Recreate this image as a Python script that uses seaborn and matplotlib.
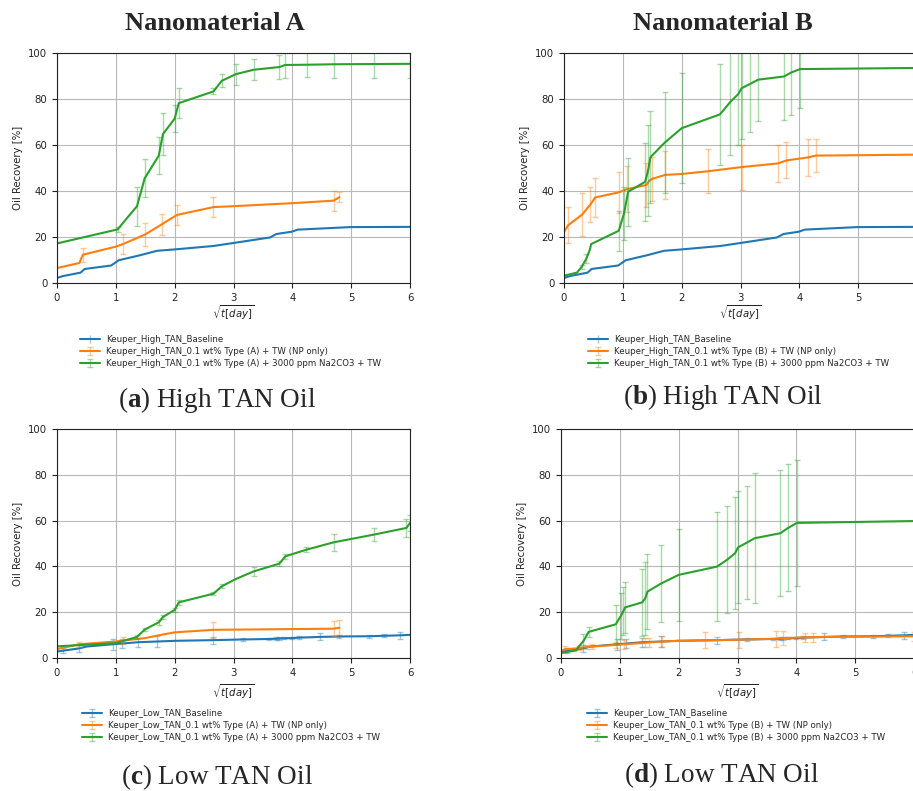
import numpy as np
import matplotlib
matplotlib.use("Agg")
import matplotlib.pyplot as plt
import seaborn as sns
from matplotlib.legend_handler import HandlerTuple

# ---------------- data ----------------
x_ticks = [0, 1, 2, 3, 4, 5, 6]
y_ticks = [0, 20, 40, 60, 80, 100]

# High TAN baseline (shared by panels a and b)
hi_base_x = [0, 0.1, 0.4, 0.47, 0.92, 1.05, 1.4, 1.7, 2.0, 2.66, 3.0, 3.62, 3.73, 3.99, 4.09, 4.98, 6.0]
hi_base_y = [2.2, 3.0, 4.5, 6.1, 7.6, 9.9, 12.0, 14.0, 14.6, 16.1, 17.4, 19.8, 21.3, 22.3, 23.2, 24.3, 24.4]
hi_base_e = [0] * 17

a_np_x = [0, 0.38, 0.44, 1.0, 1.12, 1.5, 1.78, 2.04, 2.66, 3.0, 4.0, 4.70, 4.80]
a_np_y = [6.5, 8.7, 12.3, 15.8, 16.9, 21.1, 25.5, 29.6, 33.0, 33.4, 34.7, 35.8, 37.3]
a_np_e = [0, 0, 3.0, 0, 4.5, 5.0, 4.7, 4.3, 4.2, 0, 0, 4.3, 2.2]

a_na_x = [0, 1.03, 1.36, 1.49, 1.73, 1.80, 2.0, 2.07, 2.66, 2.80, 3.04, 3.34, 3.78, 3.88, 4.25, 4.70, 5.39, 6.0]
a_na_y = [17.2, 23.3, 33.4, 45.5, 55.4, 64.7, 71.5, 78.2, 83.3, 87.9, 90.8, 92.7, 93.9, 94.8, 94.9, 95.1, 95.2, 95.3]
a_na_e = [0, 1.0, 8.5, 8.2, 8.2, 9.0, 5.8, 6.5, 1.3, 2.8, 4.6, 4.5, 5.3, 5.5, 5.5, 6.0, 6.0, 6.0]

b_np_x = [0, 0.07, 0.31, 0.45, 0.53, 0.93, 1.07, 1.40, 1.45, 1.50, 1.72, 2.0, 2.45, 3.02, 3.64, 3.78, 4.15, 4.28, 6.0]
b_np_y = [22.2, 25.1, 29.8, 34.2, 37.2, 39.4, 40.8, 42.6, 44.5, 45.3, 47.0, 47.4, 48.6, 50.4, 52.0, 53.3, 54.6, 55.4, 55.8]
b_np_e = [0, 7.8, 9.5, 7.7, 8.5, 9.0, 10.0, 9.7, 0, 9.5, 10.5, 0, 9.5, 9.8, 8.0, 7.8, 7.9, 7.0, 7.0]

b_na_x = [0, 0.22, 0.30, 0.38, 0.44, 0.46, 0.93, 1.02, 1.09, 1.38, 1.43, 1.47, 1.71, 2.0, 2.65, 2.83,
          2.96, 3.02, 3.16, 3.30, 3.74, 3.86, 4.01, 6.0]
b_na_y = [3.2, 4.5, 7.0, 10.6, 14.5, 16.9, 22.7, 30.2, 39.7, 44.0, 49.0, 54.7, 61.0, 67.3, 73.3, 78.8,
          82.1, 84.7, 86.5, 88.4, 89.8, 91.5, 93.0, 93.5]
b_na_e = [0, 0, 1.0, 2.0, 0, 0, 8.7, 11.5, 14.8, 17.0, 19.8, 20.0, 22.0, 24.0, 22.0, 23.0,
          22.0, 22.0, 21.0, 18.0, 19.0, 18.5, 17.0, 0]

# Low TAN baseline (shared by panels c and d)
lo_base_x = [0, 0.1, 0.38, 0.5, 0.95, 1.1, 1.38, 1.7, 2.0, 2.66, 3.16, 3.6, 3.73, 3.78, 3.86, 4.0, 4.12,
             4.47, 4.8, 5.3, 5.56, 5.83, 6.0]
lo_base_y = [2.8, 3.2, 4.2, 5.0, 6.0, 6.3, 6.9, 7.2, 7.5, 7.8, 8.1, 8.3, 8.4, 8.5, 8.6, 8.7, 8.9,
             9.2, 9.4, 9.5, 9.7, 9.9, 10.1]
lo_base_e = [0, 1.0, 1.5, 0, 2.5, 2.0, 2.0, 2.5, 0, 1.5, 0.5, 0.5, 0.6, 0.5, 0.5, 0.6, 0.5,
             1.5, 0.7, 0.7, 0.7, 1.5, 0]

c_np_x = [0, 0.38, 1.0, 1.12, 1.5, 1.75, 2.0, 2.66, 4.70, 4.80]
c_np_y = [3.9, 6.0, 7.2, 7.6, 8.7, 10.0, 11.2, 12.3, 12.8, 13.2]
c_np_e = [0, 1.0, 0, 1.5, 0, 0, 0, 3.4, 3.3, 3.3]

c_na_x = [0, 1.0, 1.36, 1.49, 1.73, 1.80, 2.0, 2.07, 2.66, 2.80, 3.04, 3.34, 3.78, 3.88, 4.24, 4.70, 5.39, 5.94, 6.0]
c_na_y = [5.1, 6.5, 9.2, 12.4, 15.6, 17.9, 21.0, 24.3, 28.1, 31.3, 34.5, 37.8, 41.2, 44.4, 47.3, 50.5, 53.9, 56.8, 59.0]
c_na_e = [0, 0, 1.0, 0.7, 1.0, 1.0, 1.0, 1.0, 0.7, 0.8, 0, 1.8, 1.0, 1.0, 1.0, 3.8, 3.0, 4.0, 3.5]

d_np_x = [0, 0.07, 0.31, 0.45, 0.53, 0.93, 1.07, 1.42, 1.50, 1.72, 2.0, 2.45, 3.02, 3.65, 3.78, 4.15, 4.28, 6.0]
d_np_y = [3.2, 3.8, 4.3, 4.8, 5.0, 5.7, 6.0, 6.6, 6.8, 7.2, 7.5, 7.7, 8.0, 8.4, 8.7, 9.0, 9.1, 9.5]
d_np_e = [0, 1.5, 1.0, 1.0, 1.0, 1.5, 2.0, 2.0, 2.0, 2.5, 0, 3.5, 3.5, 3.5, 3.0, 2.0, 2.0, 2.0]

d_na_x = [0, 0.26, 0.30, 0.38, 0.47, 0.93, 1.02, 1.06, 1.09, 1.38, 1.43, 1.47, 1.70, 2.0, 2.65, 2.83,
          2.96, 3.01, 3.16, 3.29, 3.73, 3.86, 4.01, 6.0]
d_na_y = [2.2, 3.3, 5.0, 7.3, 11.4, 14.7, 18.5, 20.5, 22.1, 24.3, 26.0, 29.0, 32.5, 36.3, 39.9, 43.0,
          45.8, 48.3, 50.4, 52.3, 54.5, 56.8, 59.0, 59.8]
d_na_e = [0, 0, 0, 3.0, 2.2, 8.5, 10.0, 10.3, 11.2, 14.6, 16.0, 16.5, 16.7, 20.0, 23.8, 23.5,
          24.3, 24.5, 24.8, 28.3, 27.5, 27.7, 27.5, 0]

labels_a = ["Keuper_High_TAN_Baseline",
            "Keuper_High_TAN_0.1 wt% Type (A) + TW (NP only)",
            "Keuper_High_TAN_0.1 wt% Type (A) + 3000 ppm Na2CO3 + TW"]
labels_b = ["Keuper_High_TAN_Baseline",
            "Keuper_High_TAN_0.1 wt% Type (B) + TW (NP only)",
            "Keuper_High_TAN_0.1 wt% Type (B) + 3000 ppm Na2CO3 + TW"]
labels_c = ["Keuper_Low_TAN_Baseline",
            "Keuper_Low_TAN_0.1 wt% Type (A) + TW (NP only)",
            "Keuper_Low_TAN_0.1 wt% Type (A) + 3000 ppm Na2CO3 + TW"]
labels_d = ["Keuper_Low_TAN_Baseline",
            "Keuper_Low_TAN_0.1 wt% Type (B) + TW (NP only)",
            "Keuper_Low_TAN_0.1 wt% Type (B) + 3000 ppm Na2CO3 + TW"]

col_titles = ["Nanomaterial A", "Nanomaterial B"]
captions = [("a", "High TAN Oil"), ("b", "High TAN Oil"), ("c", "Low TAN Oil"), ("d", "Low TAN Oil")]
x_label = r"$\sqrt{t[day]}$"
y_label = "Oil Recovery [%]"

# ---------------- style ----------------
sns.set_theme(style="ticks", palette="tab10", rc={
    "axes.grid": True,
    "grid.color": "#b8b8b8",
    "grid.linewidth": 0.8,
    "axes.edgecolor": "#222222",
    "axes.linewidth": 0.8,
    "xtick.major.width": 0.8,
    "ytick.major.width": 0.8,
    "xtick.major.size": 3.5,
    "ytick.major.size": 3.5,
})
plt.rcParams["font.family"] = ["DejaVu Sans"]
plt.rcParams.update({
    "mathtext.fontset": "custom",
    "mathtext.rm": "Liberation Serif",
    "mathtext.bf": "Liberation Serif:bold",
    "mathtext.it": "Liberation Serif:italic",
})

W, H = 913, 791
fig = plt.figure(figsize=(W / 100, H / 100), dpi=100)
colors = sns.color_palette("tab10", 3)


def px_axes(l, t, r, b):
    return fig.add_axes([l / W, 1 - b / H, (r - l) / W, (b - t) / H])


def draw(ax, series, labels, leg_xy, xlabel_xy):
    handles = []
    for (x, y, e), c in zip(series, colors):
        x = np.asarray(x, float)
        y = np.asarray(y, float)
        e = np.asarray(e, float)
        sns.lineplot(x=x, y=y, ax=ax, color=c, lw=1.5, estimator=None, sort=False, legend=False)
        line = ax.lines[-1]
        m = e > 0
        ec = ax.errorbar(x[m], y[m], yerr=e[m], fmt="none", ecolor=c, alpha=0.4,
                         capsize=2, elinewidth=1.0, capthick=1.0)
        handles.append((line, ec))
    ax.set_xlim(0, 6)
    ax.set_ylim(0, 100)
    ax.set_xticks(x_ticks)
    ax.set_yticks(y_ticks)
    ax.tick_params(labelsize=7.3, colors="#222222")
    ax.set_xlabel("")
    ax.set_ylabel(y_label, fontsize=7.3, color="#222222")
    ax.grid(True)
    ax.set_axisbelow(True)
    fig.text(xlabel_xy[0] / W, 1 - xlabel_xy[1] / H, x_label, fontsize=7.3, ha="center", va="center",
             math_fontfamily="dejavusans", color="#222222")
    ax.legend(handles, labels, loc="upper left", bbox_to_anchor=(leg_xy[0] / W, 1 - leg_xy[1] / H),
              bbox_transform=fig.transFigure, frameon=False, fontsize=6.2, borderpad=0,
              borderaxespad=0, handlelength=2.3, handletextpad=0.7, labelspacing=0.35,
              handler_map={tuple: HandlerTuple(ndivide=1)})


ax_a = px_axes(57, 53, 410, 283)
ax_b = px_axes(564, 53, 917, 283)
ax_c = px_axes(57, 429, 410, 658)
ax_d = px_axes(561, 429, 914, 658)

draw(ax_a, [(hi_base_x, hi_base_y, hi_base_e), (a_np_x, a_np_y, a_np_e), (a_na_x, a_na_y, a_na_e)],
     labels_a, (80, 335), (233, 313))
draw(ax_b, [(hi_base_x, hi_base_y, hi_base_e), (b_np_x, b_np_y, b_np_e), (b_na_x, b_na_y, b_na_e)],
     labels_b, (588, 335), (740, 313))
draw(ax_c, [(lo_base_x, lo_base_y, lo_base_e), (c_np_x, c_np_y, c_np_e), (c_na_x, c_na_y, c_na_e)],
     labels_c, (82, 709), (233, 692))
draw(ax_d, [(lo_base_x, lo_base_y, lo_base_e), (d_np_x, d_np_y, d_np_e), (d_na_x, d_na_y, d_na_e)],
     labels_d, (587, 709), (737, 692))

# column titles
fig.text(215 / W, 1 - 24 / H, col_titles[0], fontsize=19, fontweight="bold",
         family="Liberation Serif", ha="center", va="center")
fig.text(723 / W, 1 - 24 / H, col_titles[1], fontsize=19, fontweight="bold",
         family="Liberation Serif", ha="center", va="center")

# captions
cap_pos = [(217, 400), (723, 397), (217, 777), (722, 775)]
for (letter, txt), (cx, cy) in zip(captions, cap_pos):
    fig.text(cx / W, 1 - cy / H, "($\\mathbf{" + letter + "}$) " + txt, fontsize=19.5,
             family="Liberation Serif", ha="center", va="center")

fig.savefig("out.png", dpi=100)
